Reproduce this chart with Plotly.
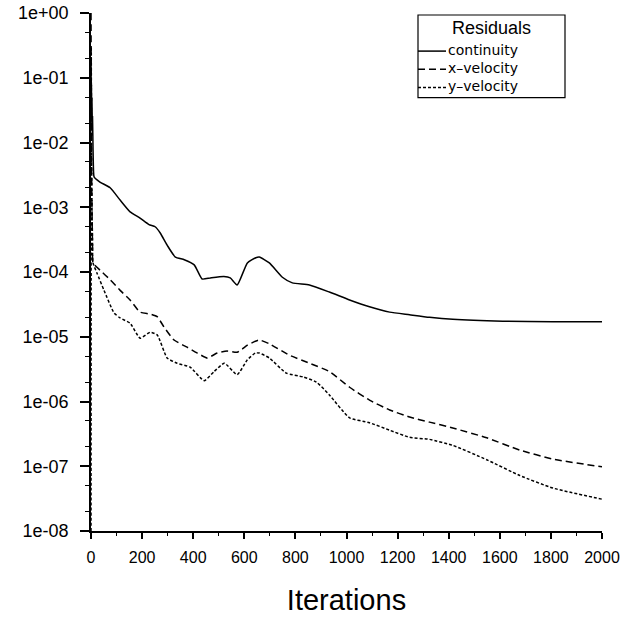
import plotly.graph_objects as go

# ---- data ----
cont_iter = [0, 1, 2, 3, 4, 5, 6, 8, 10, 12, 35, 75, 114, 153, 192, 227, 251, 271, 298, 330,
             365, 404, 435, 467, 520, 545, 572, 612, 645, 659, 698, 749, 788, 855, 933, 1012,
             1090, 1169, 1247, 1325, 1416, 1612, 1808, 2000]
cont_val = [2.0e-1, 3.2e-2, 7.9e-2, 2.0e-2, 5.0e-2, 1.3e-2, 2.5e-2, 7.9e-3, 3.5e-3, 2.95e-3,
            2.45e-3, 2.0e-3, 1.29e-3, 8.5e-4, 6.8e-4, 5.4e-4, 5.0e-4, 4.0e-4, 2.6e-4, 1.7e-4,
            1.55e-4, 1.29e-4, 7.8e-5, 8.1e-5, 8.5e-5, 8.1e-5, 6.3e-5, 1.38e-4, 1.66e-4, 1.7e-4,
            1.38e-4, 8.3e-5, 6.8e-5, 6.3e-5, 4.9e-5, 3.7e-5, 2.9e-5, 2.4e-5, 2.19e-5, 2.0e-5,
            1.86e-5, 1.74e-5, 1.70e-5, 1.70e-5]

xvel_iter = [0, 1, 2, 4, 6, 8, 35, 75, 114, 153, 192, 231, 259, 286, 325, 376, 416, 455, 494,
             533, 572, 612, 643, 659, 698, 776, 855, 933, 1012, 1090, 1169, 1247, 1325, 1416,
             1549, 1678, 1808, 2000]
xvel_val = [1.0, 5.0e-2, 5.0e-3, 8.0e-4, 2.5e-4, 1.38e-4, 1.07e-4, 7.6e-5, 5.2e-5, 3.7e-5,
            2.4e-5, 2.24e-5, 2.04e-5, 1.41e-5, 8.9e-6, 6.9e-6, 5.6e-6, 4.7e-6, 5.6e-6, 6.0e-6,
            5.75e-6, 7.4e-6, 8.5e-6, 8.9e-6, 7.8e-6, 5.2e-6, 3.9e-6, 2.9e-6, 1.66e-6, 1.05e-6,
            7.4e-7, 5.75e-7, 4.8e-7, 3.9e-7, 2.75e-7, 1.78e-7, 1.29e-7, 9.8e-8]

yvel_iter = [0, 1, 2, 4, 6, 8, 24, 51, 90, 114, 153, 192, 231, 259, 298, 337, 388, 443, 482,
             522, 572, 612, 643, 659, 698, 764, 829, 882, 933, 1012, 1090, 1169, 1247, 1325,
             1416, 1549, 1678, 1808, 2000]
yvel_val = [1.0e-8, 3.0e-1, 1.0e-2, 1.0e-3, 3.0e-4, 1.38e-4, 9.5e-5, 5.2e-5, 2.34e-5, 1.95e-5,
            1.62e-5, 9.5e-6, 1.17e-5, 1.07e-5, 4.7e-6, 3.9e-6, 3.4e-6, 2.1e-6, 2.9e-6, 3.9e-6,
            2.6e-6, 4.4e-6, 5.6e-6, 5.6e-6, 4.7e-6, 2.75e-6, 2.4e-6, 2.0e-6, 1.26e-6, 5.6e-7,
            4.7e-7, 3.6e-7, 2.8e-7, 2.6e-7, 2.1e-7, 1.26e-7, 7.2e-8, 4.6e-8, 3.1e-8]

series_names = ["continuity", "x\u2013velocity", "y\u2013velocity"]
legend_title = "Residuals"
x_title = "Iterations"
x_tickvals = [0, 200, 400, 600, 800, 1000, 1200, 1400, 1600, 1800, 2000]
y_tickvals = [1e0, 1e-1, 1e-2, 1e-3, 1e-4, 1e-5, 1e-6, 1e-7, 1e-8]
y_ticktext = ["1e+00", "1e-01", "1e-02", "1e-03", "1e-04", "1e-05", "1e-06", "1e-07", "1e-08"]

FONT = "Liberation Sans, Arial, Helvetica, sans-serif"
LEG_FONT = "DejaVu Sans, Liberation Sans, Arial, sans-serif"
DASHES = ["solid", "7px,4px", "3px,2px"]

# plot-area geometry in pixels (used to place the legend box in paper units)
W, H = 624, 617
ML, MR, MT, MB = 91, 22, 13, 86
PW, PH = W - ML - MR, H - MT - MB


def px(x):
    return (x - ML) / PW


def py(y):
    return (H - MB - y) / PH


fig = go.Figure()
for xs, ys, name, dash in zip([cont_iter, xvel_iter, yvel_iter],
                              [cont_val, xvel_val, yvel_val], series_names, DASHES):
    fig.add_trace(go.Scatter(x=xs, y=ys, mode="lines", name=name, showlegend=False,
                             line=dict(color="black", width=1.5, dash=dash,
                                       shape="spline", smoothing=0.5)))

# legend drawn as a boxed key (top right)
LEG_SIZE = 14
LINE_H = LEG_SIZE * 1.3
ENTRY_TOP = 40
shapes = [dict(type="rect", xref="paper", yref="paper",
               x0=px(418), x1=px(565), y0=py(15), y1=py(ENTRY_TOP + 3 * LINE_H + 3),
               line=dict(color="black", width=1.2), fillcolor="white", layer="above")]
annotations = [
    dict(text=legend_title, xref="paper", yref="paper", x=px(491), y=py(28),
         xanchor="center", yanchor="middle", showarrow=False,
         font=dict(size=18, family=FONT, color="black")),
    dict(text="<br>".join(series_names), xref="paper", yref="paper",
         x=px(446), y=py(ENTRY_TOP), xanchor="left", yanchor="top", align="left",
         showarrow=False, font=dict(size=LEG_SIZE, family=LEG_FONT, color="black")),
]
for i, dash in enumerate(DASHES):
    yy = ENTRY_TOP + 1 + LINE_H * (i + 0.5) + 1
    shapes.append(dict(type="line", xref="paper", yref="paper",
                       x0=px(418), x1=px(446), y0=py(yy), y1=py(yy),
                       line=dict(color="black", width=1.5, dash=dash), layer="above"))

fig.update_layout(
    width=W, height=H,
    margin=dict(l=ML, r=MR, t=MT, b=MB),
    paper_bgcolor="white", plot_bgcolor="white",
    font=dict(family=FONT, color="black"),
    showlegend=False,
    shapes=shapes, annotations=annotations,
)
fig.update_xaxes(
    range=[0, 2000], tickvals=x_tickvals, showgrid=False, zeroline=False,
    showline=True, linecolor="black", linewidth=1.5, automargin=False,
    ticks="outside", ticklen=6, tickwidth=1.5, tickcolor="black",
    minor=dict(ticks="outside", ticklen=3, tickwidth=1, tickcolor="black", dtick=100, showgrid=False),
    tickfont=dict(size=16, family=FONT), ticklabelstandoff=5,
    title=dict(text=x_title, font=dict(size=29, family=FONT), standoff=25),
)
fig.update_yaxes(
    type="log", range=[-8, 0], tickvals=y_tickvals, ticktext=y_ticktext,
    showgrid=False, zeroline=False, automargin=False,
    showline=True, linecolor="black", linewidth=1.5,
    ticks="outside", ticklen=9, tickwidth=1.5, tickcolor="black",
    minor=dict(ticks="outside", ticklen=4, tickwidth=1, tickcolor="black", dtick="D2", showgrid=False),
    tickfont=dict(size=18, family=FONT), ticklabelstandoff=8,
)

fig.write_html("out.html")
